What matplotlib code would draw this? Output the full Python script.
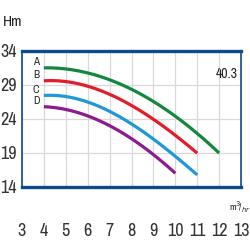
"""Pump performance curves, model 40.3
"""
import numpy as np
from matplotlib import pyplot as plt

plt.rcParams['font.family'] = ['Archivo Narrow', 'DejaVu Sans']

flow_a = [4, 5, 6, 7, 8, 9, 10, 11, 12]
head_a = [31.6, 31.1, 30.7, 29.9, 28.4, 26.5, 24.3, 21.8, 19.0]
flow_b = [4, 5, 6, 7, 8, 9, 10, 11]
head_b = [29.7, 29.2, 28.8, 27.8, 26.0, 23.8, 21.5, 19.0]
flow_c = [4, 5, 6, 7, 8, 9, 10, 11]
head_c = [27.5, 27.1, 26.5, 25.1, 23.4, 20.9, 18.4, 15.8]
flow_d = [4, 5, 6, 7, 8, 9, 10]
head_d = [25.8, 25.3, 24.4, 23.1, 21.0, 18.7, 16.0]
curve_names = ['A', 'B', 'C', 'D']
x_ticks = list(range(3, 14))
y_ticks = [14, 19, 24, 29, 34]
model = '40.3'

colors = ['#13873c', '#e31b2c', '#1f98d8', '#8d1a8e']
border = '#0c4a8e'

fig = plt.figure(figsize=(2.5, 2.5), dpi=100)
axis = fig.add_axes([0.088, 0.253, 0.876, 0.544])

curves = [(flow_a, head_a), (flow_b, head_b), (flow_c, head_c), (flow_d, head_d)]
for (flow, head), name, color in zip(curves, curve_names, colors):
    fine = np.linspace(flow[0], flow[-1], 100)
    coef = np.polyfit(flow, head, 3)
    axis.plot(fine, np.polyval(coef, fine), color=color, linewidth=2.3,
              solid_capstyle='butt', zorder=3)
    axis.text(flow[0] - 0.2, head[0] + 0.8, name, ha='right', va='center',
              fontsize=8, color='#222222')

axis.set_xlim(3, 13)
axis.set_ylim(14, 34)
axis.set_xticks(x_ticks)
axis.set_yticks(y_ticks)
axis.grid(color='#d9d9d9', linewidth=0.9)
axis.tick_params(length=0, labelsize=13, colors='#333333', pad=4)
axis.tick_params(axis='x', pad=26)
for side in ['top', 'bottom']:
    axis.spines[side].set_linewidth(2.4)
    axis.spines[side].set_color(border)
for side in ['left', 'right']:
    axis.spines[side].set_linewidth(1.2)
    axis.spines[side].set_color(border)

axis.text(0.985, 0.83, model, transform=axis.transAxes, ha='right',
          va='center', fontsize=10, color='#222222')
fig.text(0.012, 0.91, 'Hm', ha='left', va='center', fontsize=11,
         color='#222222')
fig.text(0.958, 0.17, r'm$^3\!$/$_{hr}$', ha='center', va='center',
         fontsize=7, color='#222222')

fig.savefig('out.png', dpi=100)
